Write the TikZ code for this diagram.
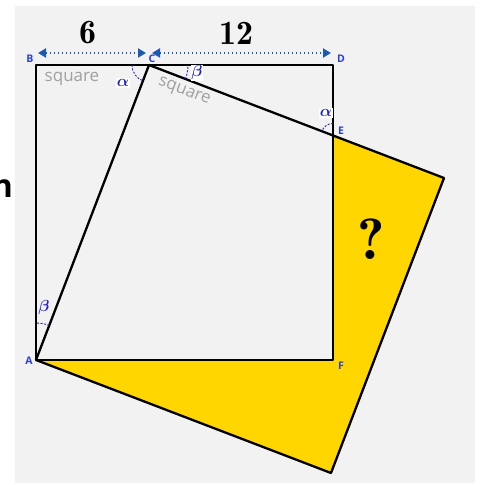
\RequirePackage{fix-cm}
\documentclass[tikz,border=0pt]{standalone}
\usepackage{amsmath,bm}
\usepackage{fontspec}
\setsansfont{Open Sans}
\newfontfamily\numfont[Extension=.otf]{lmromandemi10-regular}
\usepackage{xcolor}
\definecolor{bggray}{HTML}{F2F2F2}
\definecolor{sqyellow}{HTML}{FFD600}
\definecolor{dimblue}{HTML}{1E5BB0}
\definecolor{ptblue}{HTML}{2B3FE0}
\definecolor{angblue}{HTML}{2222C8}
\definecolor{txtgray}{HTML}{A0A0A0}
\usetikzlibrary{arrows.meta,calc,intersections}
\tikzset{
  edge/.style={draw=black,line width=2.3pt,line join=round},
  dimarr/.style={{Triangle[length=8pt,width=9pt]}-{Triangle[length=8pt,width=9pt]},draw=dimblue,line width=2pt,dash pattern=on 1.6pt off 2.4pt},
  dimlab/.style={font=\numfont\fontsize{34}{34}\selectfont},
  ptlab/.style={font=\sffamily\bfseries\fontsize{10.5}{10.5}\selectfont,text=ptblue,inner sep=0pt},
  sqlab/.style={font=\sffamily\fontsize{17}{17}\selectfont,text=txtgray,inner sep=0pt},
  anglab/.style={font=\fontsize{16}{16}\selectfont,text=angblue,fill=white,inner sep=1pt},
  angarc/.style={draw=angblue,line width=0.9pt,dash pattern=on 2pt off 1.5pt},
}
\begin{document}
\begin{tikzpicture}[x=1pt,y=1pt]
\useasboundingbox (0,0) rectangle (481,485);
\fill[bggray] (15,2) rectangle (475,479);
% corners of the big square
\coordinate (A) at (36,125);
\coordinate (B) at (36,420);
\coordinate (C) at (149,420);
\coordinate (D) at (333,420);
\coordinate (F) at (333,125);
% tilted square on A--C
\coordinate (G) at ($(C)!1!90:(A)$);
\coordinate (H) at ($(A)!1!-90:(C)$);
\path[name path=cg] (C) -- (G);
\path[name path=df] (D) -- (F);
\path[name intersections={of=cg and df,by=E}];
\fill[sqyellow] (A) -- (H) -- (G) -- (E) -- (F) -- cycle;
\draw[edge] (A) -- (B) -- (D) -- (F) -- cycle;
\draw[edge] (A) -- (C) -- (G) -- (H) -- cycle;
% dimensions
\coordinate (b1) at (38,432);
\coordinate (c1) at (146,432);
\coordinate (c2) at (152,432);
\coordinate (d1) at (331,432);
\draw[dimarr] (b1) -- (c1);
\draw[dimarr] (c2) -- (d1);
\node[dimlab] (six) at (88,452) {6};
\node[dimlab] (twelve) at (236,452) {12};
% point names
\node[ptlab] (lB) at (30,426) {B};
\node[ptlab] (lC) at (152,426) {C};
\node[ptlab] (lD) at (341,426) {D};
\node[ptlab] (lE) at (341,354) {E};
\node[ptlab] (lF) at (341,119) {F};
\node[ptlab] (lA) at (29,124) {A};
\node[sqlab] (sq1) at (72,406) {square};
\node[sqlab,rotate=-21] (sq2) at (184,393) {square};
\node[font=\numfont\fontsize{58}{58}\selectfont,inner sep=0pt] (qm) at (371,246) {?};
% angles
\draw[angarc] ($(C)+(180:17)$) arc (180:249:17);
\node[anglab] (a1) at (123,402) {$\bm{\alpha}$};
\draw[angarc] ($(C)+(-21:39)$) arc (-21:0:39);
\node[anglab,inner sep=0.5pt] (b2) at (197,412) {$\bm{\beta}$};
\draw[angarc] ($(E)+(90:12)$) arc (90:159:12);
\node[anglab] (a2) at (326,372) {$\bm{\alpha}$};
\draw[angarc] ($(A)+(69:37)$) arc (69:90:37);
\node[anglab,fill=none] (b1l) at (44,177) {$\bm{\beta}$};
\node[font=\sffamily\bfseries\fontsize{32}{32}\selectfont,anchor=east,inner sep=0pt] (cut) at (13,296) {n};
\end{tikzpicture}
\end{document}
